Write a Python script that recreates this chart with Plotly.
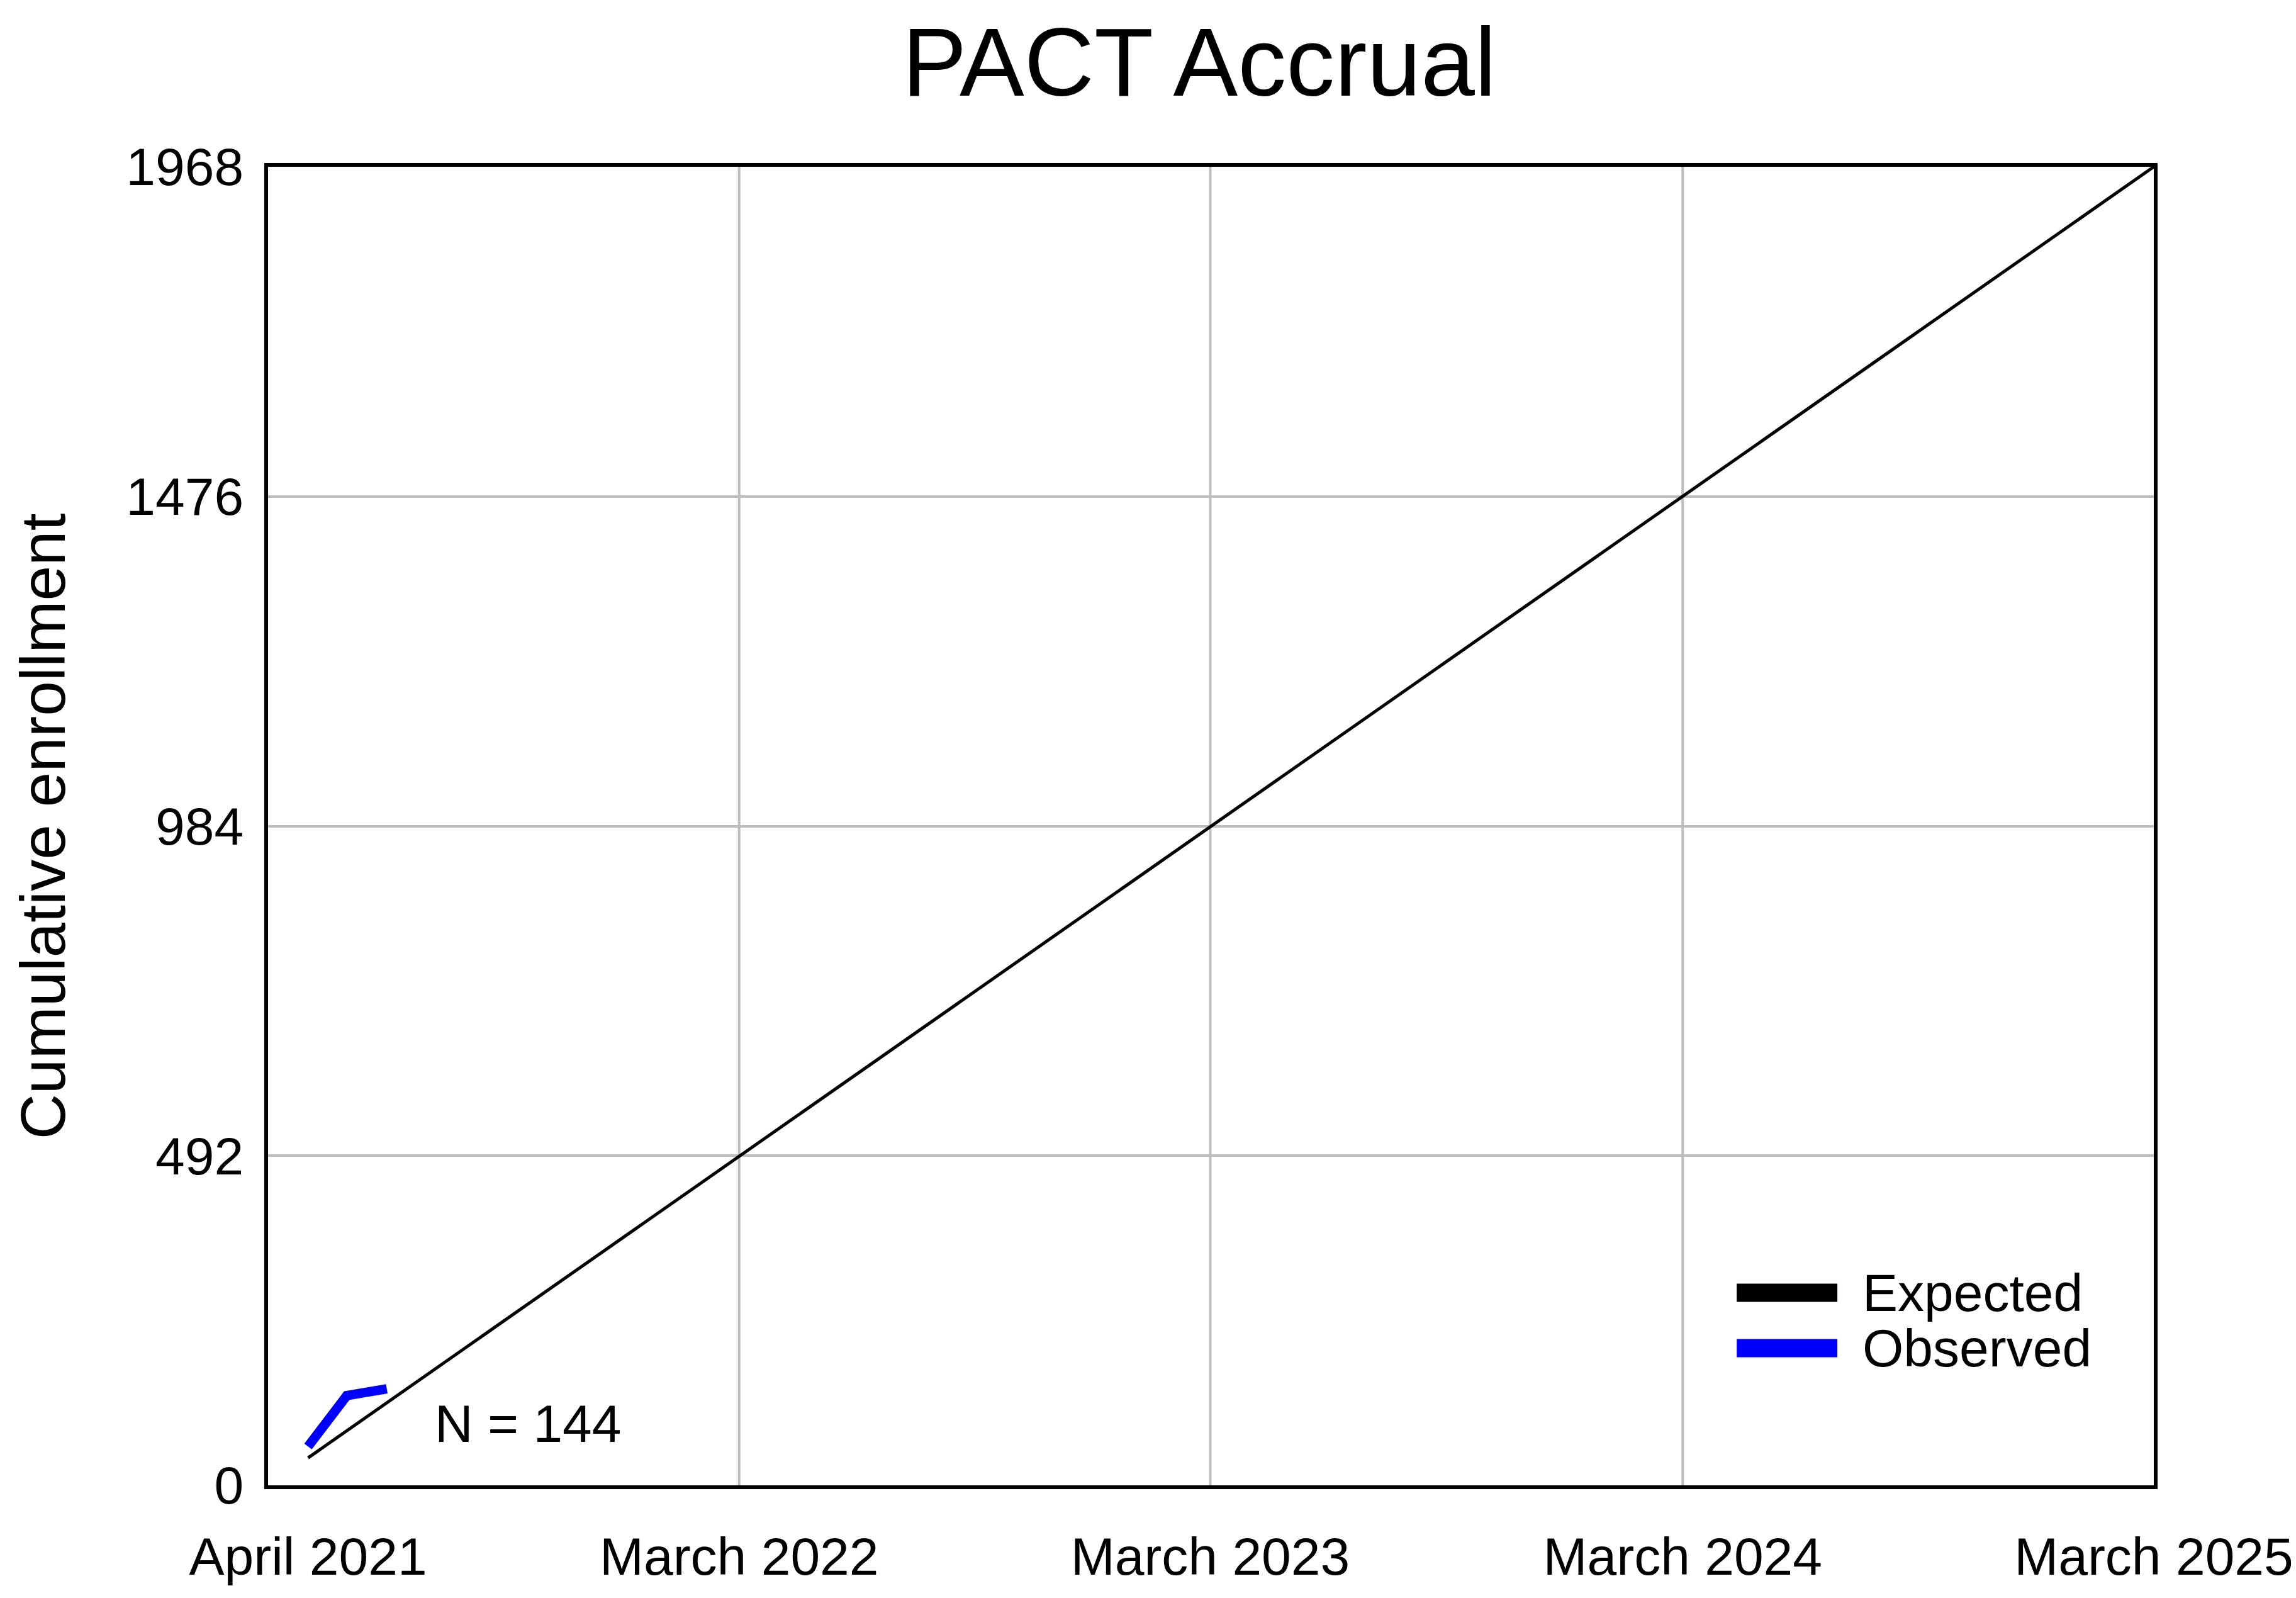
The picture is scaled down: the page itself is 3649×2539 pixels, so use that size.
import plotly.graph_objects as go

# values
expected_dates = ["2021-04-01", "2025-03-01"]
expected_counts = [41, 1968]

observed_dates = ["2021-04-01", "2021-05-01", "2021-06-01"]
observed_counts = [58, 134, 144]

x_tick_dates = ["2021-04-01", "2022-03-01", "2023-03-01", "2024-03-01", "2025-03-01"]
x_tick_labels = ["April 2021", "March 2022", "March 2023", "March 2024", "March 2025"]
x_grid_dates = ["2022-03-01", "2023-03-01", "2024-03-01"]
y_ticks = [0, 492, 984, 1476, 1968]

legend_names = ["Expected", "Observed"]
legend_colors = ["black", "blue"]
n_total = observed_counts[-1]

FONT = "Liberation Sans, Arial, sans-serif"
GRID = "#BEBEBE"

# the page body adds an 8px margin, so the figure is a bit smaller
W, H = 3641, 2523


def main():
	fig = go.Figure()

	fig.add_trace(go.Scatter(
		x=expected_dates, y=expected_counts,
		mode='lines',
		line=dict(color='black', width=5),
		name='Expected',
		showlegend=False
	))
	fig.add_trace(go.Scatter(
		x=observed_dates, y=observed_counts,
		mode='lines',
		line=dict(color='blue', width=15),
		name='Observed',
		showlegend=False
	))

	for d in x_grid_dates:
		fig.add_vline(x=d, line=dict(color=GRID, width=4), layer='below')

	# hand made legend, the samples are much thicker than the plotted lines
	legend_y = [0.1461, 0.1041]
	for name, col, ly in zip(legend_names, legend_colors, legend_y):
		fig.add_shape(
			type='line', xref='paper', yref='paper',
			x0=0.7788, x1=0.8322, y0=ly, y1=ly,
			line=dict(color=col, width=29)
		)
		fig.add_annotation(
			x=0.8449, y=ly, xref='paper', yref='paper',
			text=name, showarrow=False,
			xanchor='left', yanchor='middle',
			font=dict(family=FONT, size=84, color='black')
		)

	fig.add_annotation(
		x="2021-07-07", y=92,
		text=f"N = {n_total}", showarrow=False,
		xanchor='left', yanchor='middle',
		font=dict(family=FONT, size=84, color='black')
	)

	fig.add_annotation(
		x=-0.1195, y=0.5, xref='paper', yref='paper',
		text="Cumulative enrollment", showarrow=False,
		textangle=-90, xanchor='center', yanchor='middle',
		font=dict(family=FONT, size=100, color='black')
	)

	fig.update_layout(
		width=W, height=H,
		margin=dict(l=418, r=226, t=257, b=171),
		paper_bgcolor='white',
		plot_bgcolor='white',
		font=dict(family=FONT, size=83, color='black'),
		title=dict(
			text="PACT Accrual",
			x=0.4938, xref='paper',
			y=1 - 90 / H, yref='container',
			xanchor='center', yanchor='middle',
			font=dict(family=FONT, size=154, color='black')
		),
		xaxis=dict(
			type='date',
			range=["2021-03-01", "2025-03-01"],
			tickvals=x_tick_dates,
			ticktext=x_tick_labels,
			showgrid=False,
			zeroline=False,
			automargin=False,
			showline=True, mirror=True,
			linecolor='black', linewidth=6,
			ticks='',
			ticklabelstandoff=35,
			ticklabeloverflow='allow',
			tickfont=dict(family=FONT, size=84, color='black')
		),
		yaxis=dict(
			range=[0, 1968],
			tickvals=y_ticks,
			ticktext=[str(v) for v in y_ticks],
			showgrid=True, gridcolor=GRID, gridwidth=4,
			zeroline=False,
			automargin=False,
			showline=True, mirror=True,
			linecolor='black', linewidth=6,
			ticks='',
			ticklabelstandoff=16,
			tickfont=dict(family=FONT, size=84, color='black')
		),
		showlegend=False
	)

	fig.write_html("out.html")


if __name__ == '__main__':
	main()
